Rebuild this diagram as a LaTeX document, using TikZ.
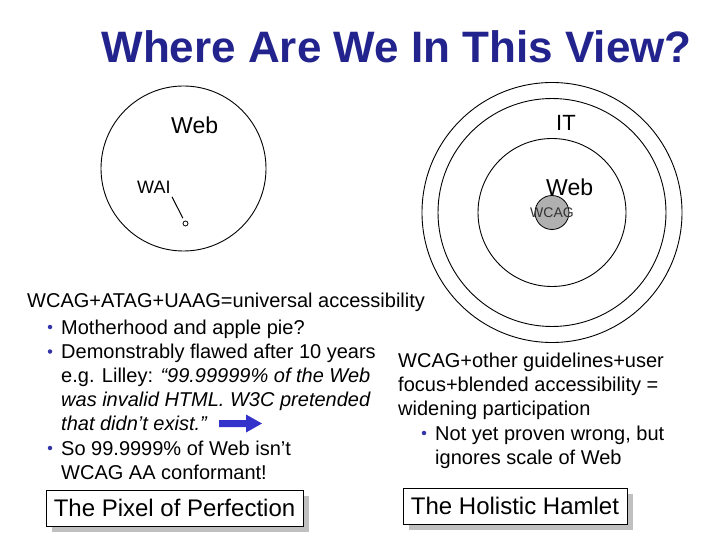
\documentclass[tikz,border=0pt]{standalone}
\usepackage{fontspec}
\setmainfont{Liberation Sans}
\usetikzlibrary{shadows}
\definecolor{titleblue}{HTML}{23238E}
\definecolor{bulletblue}{HTML}{3333AA}
\definecolor{arrowblue}{HTML}{3333CC}
\definecolor{shadowgray}{HTML}{C0C0C0}
\definecolor{wcaggray}{HTML}{B0B0B0}
\begin{document}
\begin{tikzpicture}[x=1pt,y=-1pt,
  body/.style={anchor=base west, inner sep=0pt, font=\fontsize{20}{24}\selectfont},
  bul/.style={circle, fill=bulletblue, inner sep=0pt, minimum size=4.5pt},
  ring/.style={draw, line width=0.9pt, circle, inner sep=0pt},
  lbl/.style={anchor=base west, inner sep=0pt},
  namebox/.style={draw, line width=0.8pt, fill=white, inner sep=0pt,
    font=\fontsize{24}{24}\selectfont,
    drop shadow={shadow xshift=6pt, shadow yshift=-6pt, fill=shadowgray, opacity=1}}]
\useasboundingbox (0,0) rectangle (720,540);
% title
\node[anchor=base, inner sep=0pt, text=titleblue, font=\bfseries\fontsize{44}{44}\selectfont] (title) at (396.5,63) {Where Are We In This View?};
% left view
\node[ring, minimum size=165pt] (webL) at (183.5,168.5) {};
\node[lbl, font=\fontsize{23}{23}\selectfont] (webLt) at (171,134) {Web};
\node[lbl, font=\fontsize{18}{18}\selectfont] (wai) at (137,194) {WAI};
\node[circle, draw, line width=0.8pt, inner sep=0pt, minimum size=5pt] (dot) at (185.5,223.5) {};
\draw[line width=1pt, shorten <=3pt, shorten >=3pt] (wai.south east) -- (dot);
% right view
\node[ring, minimum size=260pt] (outer) at (552,212.5) {};
\node[ring, minimum size=228pt] (itring) at (552,212.5) {};
\node[ring, minimum size=148pt] (webring) at (552,212.5) {};
\node[circle, draw, line width=0.8pt, fill=wcaggray, inner sep=0pt, minimum size=34pt] (wcagc) at (552,212.5) {};
\node[lbl, font=\fontsize{22}{22}\selectfont] (it) at (556,131) {IT};
\node[lbl, font=\fontsize{23}{23}\selectfont] (webR) at (546,196) {Web};
\node[inner sep=0pt, text=black!80, font=\fontsize{14}{14}\selectfont] (wcagt) at (552,213) {WCAG};
% left text
\node[body] (l1) at (27,307) {WCAG+ATAG+UAAG=universal accessibility};
\node[bul] (b1) at (50,327) {};
\node[body] (l2) at (61,334) {Motherhood and apple pie?};
\node[bul] (b2) at (50,351.5) {};
\node[body] (l3) at (61,358) {Demonstrably flawed after 10 years};
\node[body] (l4) at (61,382) {e.g. Lilley: \textit{“99.99999\% of the Web}};
\node[body] (l5) at (61,406) {\textit{was invalid HTML. W3C pretended}};
\node[body] (l6) at (61,430) {\textit{that didn’t exist.”}};
\fill[arrowblue] (219,420) -- (246,420) -- (246,414.5) -- (262,423.5) -- (246,432.5) -- (246,427) -- (219,427) -- cycle;
\node[bul] (b3) at (50,448) {};
\node[body] (l7) at (61,455) {So 99.9999\% of Web isn’t};
\node[body] (l8) at (61,479) {WCAG AA conformant!};
% right text
\node[body] (r1) at (398,367) {WCAG+other guidelines+user};
\node[body] (r2) at (398,391) {focus+blended accessibility =};
\node[body] (r3) at (398,415) {widening participation};
\node[bul] (b4) at (424,433) {};
\node[body] (r4) at (435,440) {Not yet proven wrong, but};
\node[body] (r5) at (435,464) {ignores scale of Web};
% boxes
\node[namebox, minimum width=257pt, minimum height=36pt] (pixel) at (174.5,508) {The Pixel of Perfection};
\node[namebox, minimum width=224pt, minimum height=36pt] (hamlet) at (515,506) {The Holistic Hamlet};
\end{tikzpicture}
\end{document}
